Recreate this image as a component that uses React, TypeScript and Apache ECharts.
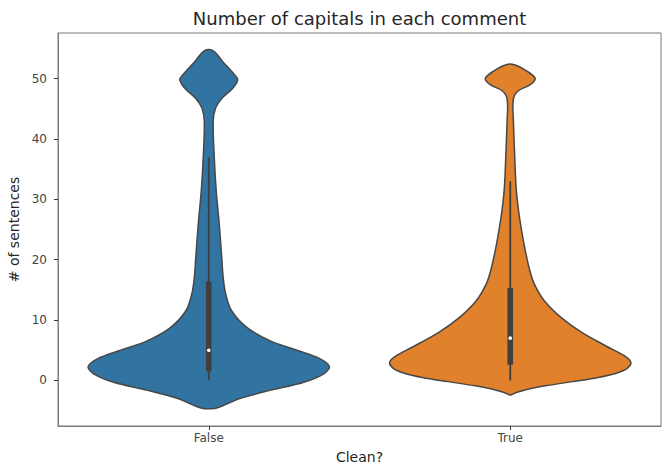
import React, { useEffect, useRef } from "react";
import * as echarts from "echarts";

const categories = ["False", "True"];
const yTicks = [0, 10, 20, 30, 40, 50];

// Violin outline: y levels and relative density (1 = widest point)
const falseLevels = [-4.6, -3.9, -3.0, -1.65, -0.3, 1.1, 2.3, 3.6, 5.0, 6.6, 8.8, 11.5, 14.3, 17.0, 20.3, 25.9, 31.4, 36.8, 42.9, 45.1, 46.7, 48.4, 49.8, 50.6, 52.8, 54.6];
const falseDensity = [0.058, 0.149, 0.257, 0.506, 0.788, 0.954, 1.0, 0.92, 0.73, 0.506, 0.315, 0.191, 0.141, 0.12, 0.108, 0.087, 0.062, 0.046, 0.037, 0.056, 0.108, 0.199, 0.24, 0.216, 0.116, 0.037];
const trueLevels = [-2.37, -2.0, -1.7, -1.3, -0.9, -0.2, 0.5, 1.2, 2.0, 3.0, 4.1, 5.5, 8.0, 10.4, 13.2, 16.0, 18.5, 22.8, 27.2, 31.6, 37.1, 42.6, 46.5, 47.9, 49.0, 50.0, 51.2, 52.3];
const trueDensity = [0.008, 0.05, 0.1, 0.182, 0.29, 0.514, 0.73, 0.879, 0.97, 1.0, 0.945, 0.813, 0.589, 0.423, 0.282, 0.199, 0.158, 0.112, 0.075, 0.05, 0.037, 0.027, 0.025, 0.062, 0.166, 0.207, 0.141, 0.033];

// Inner box: [whisker low, Q1, median, Q3, whisker high]
const falseBox = [0, 1.5, 5, 16.4, 37];
const trueBox = [0, 2.6, 7, 15.3, 33];

const levelsByCat = [falseLevels, trueLevels];
const densityByCat = [falseDensity, trueDensity];
const boxByCat = [falseBox, trueBox];
const colors = ["#3274a1", "#e1812c"];

export default function App() {
  const ref = useRef<HTMLDivElement>(null);
  useEffect(() => {
    if (!ref.current) return;
    const chart = echarts.init(ref.current, undefined, { renderer: "svg" });
    const font = "DejaVu Sans";
    chart.setOption({
      animation: false,
      backgroundColor: "#ffffff",
      grid: {
        left: 58, right: 5, top: 33, bottom: 41,
        containLabel: false, outerBoundsMode: "none",
        show: true, borderColor: "#7a7a7a", borderWidth: 1,
      },
      graphic: [
        {
          type: "text",
          x: 359.5,
          y: 18,
          style: {
            text: "Number of capitals in each comment",
            font: `18px '${font}'`,
            fill: "#262626",
            textAlign: "center",
            textVerticalAlign: "middle",
          },
        },
      ],
      xAxis: {
        type: "category",
        data: categories,
        boundaryGap: true,
        name: "Clean?",
        nameLocation: "middle",
        nameGap: 24,
        nameTextStyle: { fontFamily: font, fontSize: 14, color: "#262626" },
        axisLine: { show: true, onZero: false, lineStyle: { color: "#7a7a7a", width: 1 } },
        axisTick: { show: true, alignWithLabel: true, length: 4, lineStyle: { color: "#333333" } },
        axisLabel: { fontFamily: font, fontSize: 12, color: "#444444", margin: 6 },
        splitLine: { show: false },
      },
      yAxis: {
        type: "value",
        min: -7.55,
        max: 57.55,
        name: "# of sentences",
        nameLocation: "middle",
        nameGap: 34,
        nameTextStyle: { fontFamily: font, fontSize: 14, color: "#262626" },
        axisLine: { show: true, onZero: false, lineStyle: { color: "#7a7a7a", width: 1 } },
        axisTick: { show: true, length: 4, customValues: yTicks, lineStyle: { color: "#333333" } },
        axisLabel: { fontFamily: font, fontSize: 12, color: "#444444", margin: 11, customValues: yTicks },
        splitLine: { show: false },
      },
      series: [
        {
          type: "custom",
          clip: false,
          data: categories.map((_, i) => [i]),
          renderItem: (params: any, api: any) => {
            const cat = api.value(0);
            const levels = levelsByCat[cat];
            const dens = densityByCat[cat];
            const box = boxByCat[cat];
            const cx = api.coord([cat, 0])[0];
            const halfMax = api.size([1, 0])[0] * 0.4;
            const left: number[][] = [];
            const right: number[][] = [];
            for (let k = 0; k < levels.length; k++) {
              const py = api.coord([cat, levels[k]])[1];
              left.push([cx - dens[k] * halfMax, py]);
              right.push([cx + dens[k] * halfMax, py]);
            }
            const pts = left.concat(right.reverse());
            const yLo = api.coord([cat, box[0]])[1];
            const yQ1 = api.coord([cat, box[1]])[1];
            const yMed = api.coord([cat, box[2]])[1];
            const yQ3 = api.coord([cat, box[3]])[1];
            const yHi = api.coord([cat, box[4]])[1];
            return {
              type: "group",
              children: [
                {
                  type: "polygon",
                  shape: { points: pts, smooth: 0.35 },
                  style: { fill: colors[cat], stroke: "#474747", lineWidth: 1.5 },
                },
                {
                  type: "line",
                  shape: { x1: cx, y1: yLo, x2: cx, y2: yHi },
                  style: { stroke: "#3f3f3f", lineWidth: 1.8 },
                },
                {
                  type: "rect",
                  shape: { x: cx - 2.8, y: yQ3, width: 5.6, height: yQ1 - yQ3 },
                  style: { fill: "#3f3f3f" },
                },
                {
                  type: "circle",
                  shape: { cx: cx, cy: yMed, r: 1.8 },
                  style: { fill: "#ffffff" },
                },
              ],
            };
          },
        },
      ],
    });
    return () => chart.dispose();
  }, []);
  return (
    <div
      ref={ref}
      style={{ position: "absolute", left: 0, top: 0, width: 666, height: 467 }}
    />
  );
}
